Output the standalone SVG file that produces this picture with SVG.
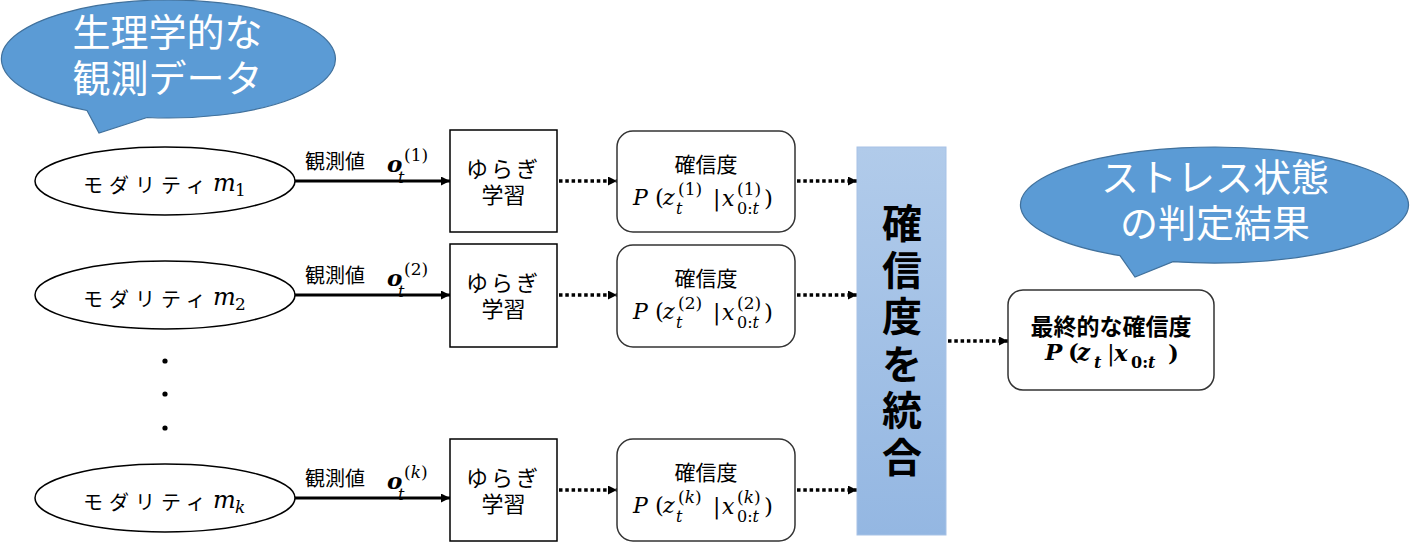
<svg xmlns="http://www.w3.org/2000/svg" width="1411" height="542" viewBox="0 0 1411 542">
<defs>
<style>
.jp{font-family:"Noto Sans CJK JP","Noto Sans",sans-serif;fill:#000}
.wt{font-family:"Noto Sans CJK JP","Noto Sans",sans-serif;fill:#fff;font-size:38px}
.mi{font-family:"DejaVu Serif","Liberation Serif",serif;font-style:italic;fill:#000}
.up{font-style:normal}
.node{fill:#fff;stroke:#000;stroke-width:1.5}
.rnode{fill:#fff;stroke:#333;stroke-width:1.5}
.bub{fill:#5b9bd5;stroke:#41719c;stroke-width:1.2}
.solid{stroke:#000;stroke-width:3;fill:none}
.dot{stroke:#000;stroke-width:3.5;fill:none;stroke-dasharray:3.5 2.8}
</style>
<marker id="ah" viewBox="0 0 10 10" refX="10" refY="5" markerWidth="10" markerHeight="9" markerUnits="userSpaceOnUse" orient="auto">
<path d="M0,0 L10,5 L0,10 Z" fill="#000"/>
</marker>
<marker id="ahd" viewBox="0 0 10 10" refX="10" refY="5" markerWidth="10" markerHeight="9" markerUnits="userSpaceOnUse" orient="auto">
<path d="M0,0 L10,5 L0,10 Z" fill="#000"/>
</marker>
<linearGradient id="barg" x1="0" y1="0" x2="0" y2="1">
<stop offset="0" stop-color="#b1cbea"/>
<stop offset="1" stop-color="#94b7e2"/>
</linearGradient>
</defs>

<g id="bubble-obs">
<path class="bub" d="M87,110.5 L99,133 L147,117.5 A167 59 0 1 0 87,110.5 Z"/>
<text class="wt" x="167.5" y="46" text-anchor="middle">生理学的な</text>
<text class="wt" x="167.5" y="92" text-anchor="middle">観測データ</text>
</g>

<g id="bubble-result">
<path class="bub" d="M1120,255.7 L1135,277 L1173,261.7 A194 58 0 1 0 1120,255.7 Z"/>
<text class="wt" x="1215" y="191" text-anchor="middle">ストレス状態</text>
<text class="wt" x="1215" y="237" text-anchor="middle">の判定結果</text>
</g>

<g id="connectors">
<line class="solid" x1="295" y1="181" x2="450" y2="181" marker-end="url(#ah)"/>
<line class="solid" x1="295" y1="295" x2="450" y2="295" marker-end="url(#ah)"/>
<line class="solid" x1="295" y1="498" x2="450" y2="498" marker-end="url(#ah)"/>
<line class="dot" x1="559" y1="181" x2="617" y2="181" marker-end="url(#ahd)"/>
<line class="dot" x1="559" y1="295" x2="617" y2="295" marker-end="url(#ahd)"/>
<line class="dot" x1="559" y1="490" x2="617" y2="490" marker-end="url(#ahd)"/>
<line class="dot" x1="797" y1="181" x2="857" y2="181" marker-end="url(#ahd)"/>
<line class="dot" x1="797" y1="295" x2="857" y2="295" marker-end="url(#ahd)"/>
<line class="dot" x1="797" y1="490" x2="857" y2="490" marker-end="url(#ahd)"/>
<line class="dot" x1="948" y1="341" x2="1008" y2="341" marker-end="url(#ahd)"/>
<g id="label-o1">
<text class="jp" x="305" y="169" font-size="20">観測値</text>
<text class="mi"><tspan x="387" y="172" font-size="23" font-weight="bold">o</tspan><tspan x="398" y="183" font-size="16">t</tspan><tspan x="404" y="161" font-size="17" class="up">(1)</tspan></text>
</g>
<g id="label-o2">
<text class="jp" x="305" y="283" font-size="20">観測値</text>
<text class="mi"><tspan x="387" y="286" font-size="23" font-weight="bold">o</tspan><tspan x="398" y="297" font-size="16">t</tspan><tspan x="404" y="275" font-size="17" class="up">(2)</tspan></text>
</g>
<g id="label-ok">
<text class="jp" x="305" y="486" font-size="20">観測値</text>
<text class="mi"><tspan x="387" y="489" font-size="23" font-weight="bold">o</tspan><tspan x="398" y="500" font-size="16">t</tspan><tspan x="404" y="478" font-size="17" class="up">(</tspan><tspan font-size="17">k</tspan><tspan font-size="17" class="up">)</tspan></text>
</g>
</g>

<g id="modality-1">
<ellipse class="node" cx="165" cy="181" rx="130" ry="34"/>
<text class="jp" x="83" y="193" font-size="20" letter-spacing="6">モダリティ</text>
<text class="mi"><tspan x="213" y="191" font-size="24">m</tspan><tspan x="235" y="196" font-size="17" class="up">1</tspan></text>
</g>
<g id="modality-2">
<ellipse class="node" cx="165" cy="295" rx="130" ry="34"/>
<text class="jp" x="83" y="307" font-size="20" letter-spacing="6">モダリティ</text>
<text class="mi"><tspan x="213" y="305" font-size="24">m</tspan><tspan x="235" y="310" font-size="17" class="up">2</tspan></text>
</g>
<g id="ellipsis">
<circle cx="165" cy="361" r="2.6"/>
<circle cx="165" cy="394" r="2.6"/>
<circle cx="165" cy="428" r="2.6"/>
</g>
<g id="modality-k">
<ellipse class="node" cx="165" cy="498" rx="130" ry="34"/>
<text class="jp" x="83" y="510" font-size="20" letter-spacing="6">モダリティ</text>
<text class="mi"><tspan x="213" y="508" font-size="24">m</tspan><tspan x="235" y="513" font-size="17">k</tspan></text>
</g>

<g id="yuragi-1">
<rect class="node" x="450" y="130" width="107" height="102"/>
<text class="jp" x="503.5" y="177" font-size="22" text-anchor="middle" letter-spacing="3">ゆらぎ</text>
<text class="jp" x="503.5" y="203" font-size="22" text-anchor="middle">学習</text>
</g>
<g id="yuragi-2">
<rect class="node" x="450" y="244" width="107" height="103"/>
<text class="jp" x="503.5" y="291" font-size="22" text-anchor="middle" letter-spacing="3">ゆらぎ</text>
<text class="jp" x="503.5" y="317" font-size="22" text-anchor="middle">学習</text>
</g>
<g id="yuragi-k">
<rect class="node" x="450" y="439" width="107" height="102"/>
<text class="jp" x="503.5" y="486" font-size="22" text-anchor="middle" letter-spacing="3">ゆらぎ</text>
<text class="jp" x="503.5" y="512" font-size="22" text-anchor="middle">学習</text>
</g>

<g id="conf-1">
<rect class="rnode" x="617" y="131" width="178" height="101" rx="16"/>
<text class="jp" x="706" y="172" font-size="21" text-anchor="middle">確信度</text>
<text class="mi" font-size="22"><tspan x="633" y="205">P</tspan><tspan x="655" class="up" font-size="23">(</tspan><tspan x="663">z</tspan><tspan x="676" y="214" font-size="16">t</tspan><tspan x="678" y="195" font-size="17" class="up">(1)</tspan><tspan x="713" y="206" class="up" font-size="22">|</tspan><tspan x="722">x</tspan><tspan x="737" y="195" font-size="17" class="up">(1)</tspan><tspan x="737" y="214" font-size="16" class="up">0:</tspan><tspan font-size="16">t</tspan><tspan x="764" y="206" class="up" font-size="23">)</tspan></text>
</g>
<g id="conf-2">
<rect class="rnode" x="617" y="245" width="178" height="102" rx="16"/>
<text class="jp" x="706" y="286" font-size="21" text-anchor="middle">確信度</text>
<text class="mi" font-size="22"><tspan x="633" y="319">P</tspan><tspan x="655" class="up" font-size="23">(</tspan><tspan x="663">z</tspan><tspan x="676" y="328" font-size="16">t</tspan><tspan x="678" y="309" font-size="17" class="up">(2)</tspan><tspan x="713" y="320" class="up" font-size="22">|</tspan><tspan x="722">x</tspan><tspan x="737" y="309" font-size="17" class="up">(2)</tspan><tspan x="737" y="328" font-size="16" class="up">0:</tspan><tspan font-size="16">t</tspan><tspan x="764" y="320" class="up" font-size="23">)</tspan></text>
</g>
<g id="conf-k">
<rect class="rnode" x="617" y="439" width="178" height="102" rx="16"/>
<text class="jp" x="706" y="480" font-size="21" text-anchor="middle">確信度</text>
<text class="mi" font-size="22"><tspan x="633" y="513">P</tspan><tspan x="655" class="up" font-size="23">(</tspan><tspan x="663">z</tspan><tspan x="676" y="522" font-size="16">t</tspan><tspan x="678" y="503" font-size="17" class="up">(</tspan><tspan font-size="17">k</tspan><tspan font-size="17" class="up">)</tspan><tspan x="713" y="514" class="up" font-size="22">|</tspan><tspan x="722">x</tspan><tspan x="737" y="503" font-size="17" class="up">(</tspan><tspan font-size="17">k</tspan><tspan font-size="17" class="up">)</tspan><tspan x="737" y="522" font-size="16" class="up">0:</tspan><tspan font-size="16">t</tspan><tspan x="764" y="514" class="up" font-size="23">)</tspan></text>
</g>

<g id="integrate">
<rect x="857" y="147" width="89" height="388" fill="url(#barg)" stroke="#a7c2e6" stroke-width="1"/>
<text class="jp" x="902" y="238" font-size="40" font-weight="bold" text-anchor="middle">確</text>
<text class="jp" x="902" y="285" font-size="40" font-weight="bold" text-anchor="middle">信</text>
<text class="jp" x="902" y="331" font-size="40" font-weight="bold" text-anchor="middle">度</text>
<text class="jp" x="902" y="379" font-size="40" font-weight="bold" text-anchor="middle">を</text>
<text class="jp" x="902" y="425" font-size="40" font-weight="bold" text-anchor="middle">統</text>
<text class="jp" x="902" y="472" font-size="40" font-weight="bold" text-anchor="middle">合</text>
</g>

<g id="final">
<rect class="rnode" x="1008" y="290" width="206" height="100" rx="15"/>
<text class="jp" x="1111" y="335" font-size="23" font-weight="bold" text-anchor="middle">最終的な確信度</text>
<text class="mi" font-size="23" font-weight="bold"><tspan x="1045" y="360">P</tspan><tspan x="1068" class="up" font-size="23">(</tspan><tspan x="1077">z</tspan><tspan x="1094" y="368" font-size="16">t</tspan><tspan x="1107" y="361" class="up" font-weight="normal" font-size="23">|</tspan><tspan x="1114">x</tspan><tspan x="1131" y="368" font-size="16" class="up">0:</tspan><tspan font-size="16">t</tspan><tspan x="1168" y="361" class="up" font-size="23">)</tspan></text>
</g>
</svg>
